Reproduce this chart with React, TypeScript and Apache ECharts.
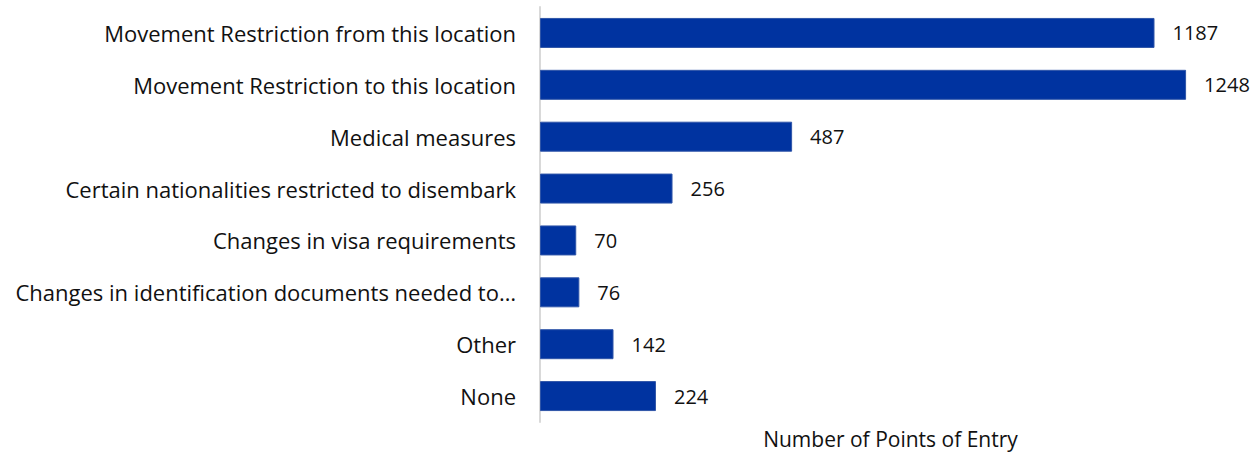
import React, { useEffect, useRef } from "react";
import * as echarts from "echarts";

const categories = [
  "Movement Restriction from this location",
  "Movement Restriction to this location",
  "Medical measures",
  "Certain nationalities restricted to disembark",
  "Changes in visa requirements",
  "Changes in identification documents needed to…",
  "Other",
  "None",
];
const values = [1187, 1248, 487, 256, 70, 76, 142, 224];
const axisTitle = "Number of Points of Entry";

export default function App() {
  const ref = useRef<HTMLDivElement>(null);
  useEffect(() => {
    document.body.style.margin = "0";
    const chart = echarts.init(ref.current!, null, { renderer: "svg" });
    const font = "'Open Sans', Lato, sans-serif";
    chart.setOption({
      animation: false,
      grid: { left: 540, right: 45, top: 7, bottom: 30, containLabel: false, outerBoundsMode: "none" },
      xAxis: {
        type: "value",
        min: 0,
        max: 1300,
        show: true,
        axisLine: { show: false },
        axisTick: { show: false },
        axisLabel: { show: false },
        splitLine: { show: false },
        name: axisTitle,
        nameLocation: "middle",
        nameGap: 6,
        nameTextStyle: { fontFamily: font, fontSize: 21, color: "#111", padding: [0, 0, 0, 28] },
      },
      yAxis: {
        type: "category",
        inverse: true,
        data: categories,
        axisLine: { show: true, lineStyle: { color: "#d9d9d9", width: 2 } },
        axisTick: { show: false },
        axisLabel: { fontFamily: font, fontSize: 22, color: "#111", margin: 24 },
      },
      series: [
        {
          type: "bar",
          data: values,
          barWidth: 30,
          itemStyle: { color: "#0033A0", borderColor: "#2f55a8", borderWidth: 1 },
          label: {
            show: true,
            position: "right",
            distance: 18,
            fontFamily: font,
            fontSize: 20,
            color: "#111",
          },
        },
      ],
    });
    return () => chart.dispose();
  }, []);
  return <div ref={ref} style={{ width: 1258, height: 452 }} />;
}
